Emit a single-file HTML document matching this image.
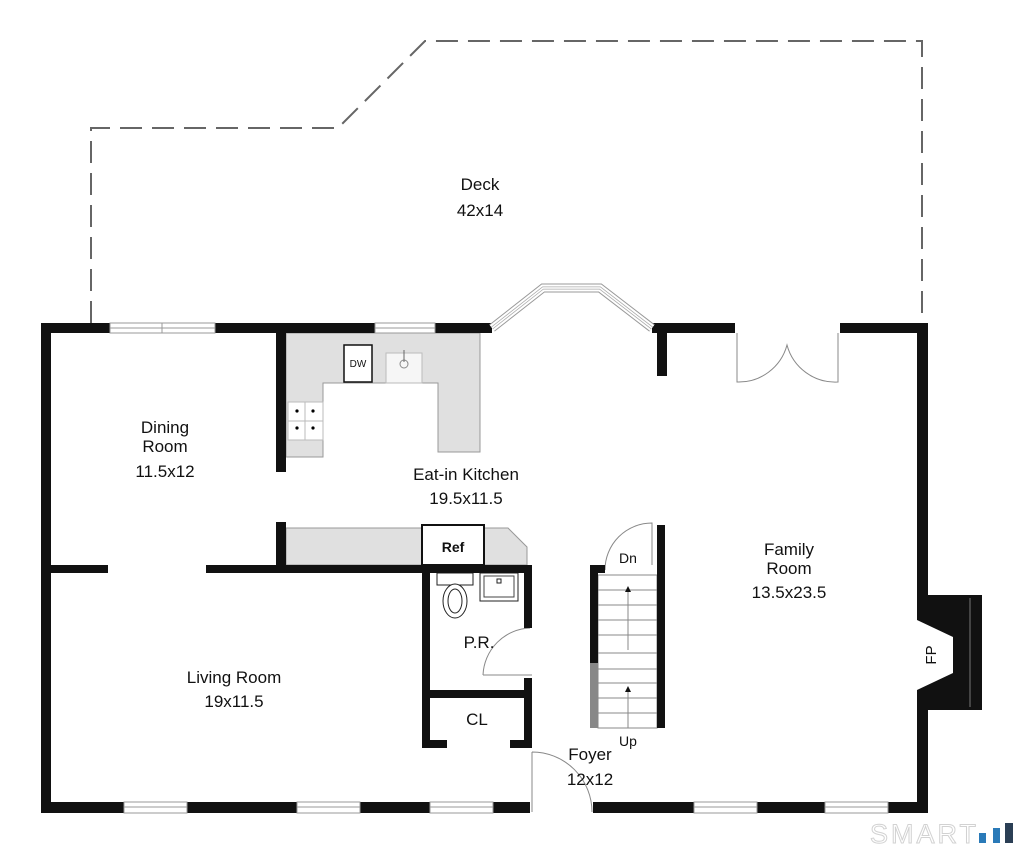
<!DOCTYPE html>
<html><head><meta charset="utf-8"><style>
html,body{margin:0;padding:0;background:#fff;width:1024px;height:851px;overflow:hidden}
svg{display:block}
text{font-family:"Liberation Sans",sans-serif;fill:#111}
</style></head><body>
<svg width="1024" height="851" viewBox="0 0 1024 851" xmlns="http://www.w3.org/2000/svg">
<polyline points="91,323 91,128 338,128 425,41 922,41 922,323" fill="none" stroke="#666" stroke-width="2" stroke-dasharray="22,10"/>

<polygon points="286,333 480,333 480,452 438,452 438,383 323,383 323,457 286,457" fill="#e0e0e0" stroke="#999" stroke-width="1"/>
<polygon points="286,528 508,528 527,547 527,565 286,565" fill="#e0e0e0" stroke="#999" stroke-width="1"/>
<rect x="344" y="345" width="28" height="37" fill="#fff" stroke="#111" stroke-width="1.5"/>
<text x="358" y="367" font-size="10" text-anchor="middle">DW</text>
<rect x="386" y="353" width="36" height="30" fill="#f6f6f6" stroke="#bbb"/>
<circle cx="404" cy="364" r="4" fill="none" stroke="#888"/>
<line x1="404" y1="350" x2="404" y2="362" stroke="#666"/>
<rect x="288" y="402" width="35" height="38" fill="#fff" stroke="#bbb"/>
<line x1="305" y1="402" x2="305" y2="440" stroke="#bbb"/><line x1="288" y1="421" x2="323" y2="421" stroke="#bbb"/>
<circle cx="297" cy="411" r="1.6" fill="#000"/><circle cx="313" cy="411" r="1.6" fill="#000"/>
<circle cx="297" cy="428" r="1.6" fill="#000"/><circle cx="313" cy="428" r="1.6" fill="#000"/>
<rect x="422" y="525" width="62" height="40" fill="#fff" stroke="#111" stroke-width="2"/>
<text x="453" y="552" font-size="14" font-weight="bold" text-anchor="middle" fill="#333">Ref</text>

<rect x="437" y="573" width="36" height="12" fill="#fff" stroke="#222"/>
<ellipse cx="455" cy="601" rx="12" ry="17" fill="#fff" stroke="#222"/>
<ellipse cx="455" cy="601" rx="7" ry="12" fill="none" stroke="#222"/>
<rect x="480" y="573" width="38" height="28" fill="#fff" stroke="#222"/>
<rect x="484" y="576" width="30" height="21" fill="none" stroke="#444"/>
<rect x="497" y="579" width="4" height="4" fill="none" stroke="#222"/>

<g stroke="#888" stroke-width="1" fill="none">
<rect x="598" y="575" width="59" height="153"/>
<line x1="598" y1="653" x2="657" y2="653"/>
<line x1="598" y1="590" x2="657" y2="590"/><line x1="598" y1="605" x2="657" y2="605"/><line x1="598" y1="620" x2="657" y2="620"/><line x1="598" y1="635" x2="657" y2="635"/>
<line x1="598" y1="669" x2="657" y2="669"/><line x1="598" y1="683" x2="657" y2="683"/><line x1="598" y1="698" x2="657" y2="698"/><line x1="598" y1="713" x2="657" y2="713"/>
<line x1="628" y1="588" x2="628" y2="650"/><line x1="628" y1="690" x2="628" y2="728"/>
<path d="M605,570 A47,47 0 0 1 652,523 L652,565"/>
<path d="M532,752 L532,812 M532,752 A60,60 0 0 1 592,812"/>
<path d="M483,675 L532,675 M483,675 A49,49 0 0 1 530,628"/>
<path d="M737,333 L737,382 A50,50 0 0 0 787,345 A50,50 0 0 0 838,382 L838,333"/>
</g>
<polygon points="628,586 625,592 631,592" fill="#111"/>
<polygon points="628,686 625,692 631,692" fill="#111"/>

<g fill="#111">
<rect x="41" y="323" width="10" height="490"/>
<rect x="41" y="323" width="69" height="10"/>
<rect x="215" y="323" width="160" height="10"/>
<rect x="435" y="323" width="57" height="10"/>
<rect x="652" y="323" width="83" height="10"/>
<rect x="657" y="323" width="10" height="53"/>
<rect x="840" y="323" width="87" height="10"/>
<rect x="917" y="323" width="11" height="272"/>
<rect x="917" y="710" width="11" height="103"/>
<polygon points="917,595 982,595 982,710 917,710 917,690 953,673 953,637 917,620"/>
<rect x="276" y="333" width="10" height="139"/>
<rect x="276" y="522" width="10" height="50"/>
<rect x="51" y="565" width="57" height="8"/>
<rect x="206" y="565" width="326" height="8"/>
<rect x="422" y="565" width="8" height="183"/>
<rect x="524" y="565" width="8" height="63"/>
<rect x="524" y="678" width="8" height="70"/>
<rect x="430" y="690" width="94" height="8"/>
<rect x="422" y="740" width="25" height="8"/>
<rect x="510" y="740" width="22" height="8"/>
<rect x="590" y="565" width="8" height="98"/>
<rect x="590" y="565" width="15" height="8"/>
<rect x="657" y="525" width="8" height="203"/>
<rect x="41" y="802" width="83" height="11"/>
<rect x="187" y="802" width="110" height="11"/>
<rect x="360" y="802" width="70" height="11"/>
<rect x="493" y="802" width="37" height="11"/>
<rect x="593" y="802" width="101" height="11"/>
<rect x="757" y="802" width="68" height="11"/>
<rect x="888" y="802" width="40" height="11"/>
</g>
<rect x="590" y="663" width="8" height="65" fill="#888"/>
<line x1="970" y1="598" x2="970" y2="707" stroke="#777"/>
<text x="0" y="0" font-size="15" transform="translate(936,655) rotate(-90)" text-anchor="middle">FP</text>

<g fill="#fff" stroke="#999" stroke-width="1">
<rect x="110" y="323" width="105" height="10"/><line x1="110" y1="328" x2="215" y2="328"/><line x1="162" y1="323" x2="162" y2="333"/>
<rect x="375" y="323" width="60" height="10"/><line x1="375" y1="328" x2="435" y2="328"/>
<rect x="124" y="802" width="63" height="11"/><line x1="124" y1="807" x2="187" y2="807"/>
<rect x="297" y="802" width="63" height="11"/><line x1="297" y1="807" x2="360" y2="807"/>
<rect x="430" y="802" width="63" height="11"/><line x1="430" y1="807" x2="493" y2="807"/>
<rect x="694" y="802" width="63" height="11"/><line x1="694" y1="807" x2="757" y2="807"/>
<rect x="825" y="802" width="63" height="11"/><line x1="825" y1="807" x2="888" y2="807"/>
</g>
<g fill="none">
<polyline points="492,328 543,288 600,288 652,328" stroke-width="9" stroke="#999"/>
<polyline points="492,328 543,288 600,288 652,328" stroke-width="7" stroke="#fff"/>
<polyline points="492,328 543,288 600,288 652,328" stroke-width="3" stroke="#aaa"/>
<polyline points="492,328 543,288 600,288 652,328" stroke-width="1.5" stroke="#fff"/>
</g>

<g font-size="17" text-anchor="middle">
<text x="480" y="190">Deck</text><text x="480" y="216">42x14</text>
<text x="165" y="433">Dining</text><text x="165" y="452">Room</text><text x="165" y="477">11.5x12</text>
<text x="466" y="480">Eat-in Kitchen</text><text x="466" y="504">19.5x11.5</text>
<text x="789" y="555">Family</text><text x="789" y="574">Room</text><text x="789" y="598">13.5x23.5</text>
<text x="234" y="683">Living Room</text><text x="234" y="707">19x11.5</text>
<text x="479" y="648">P.R.</text>
<text x="477" y="725">CL</text>
<text x="590" y="760">Foyer</text><text x="590" y="785">12x12</text>
</g>
<text x="628" y="563" font-size="14" text-anchor="middle">Dn</text>
<text x="628" y="746" font-size="14" text-anchor="middle">Up</text>

<text x="870" y="843" font-size="27" fill="none" stroke="#d2d2d2" stroke-width="1" letter-spacing="3" style="fill:none">SMART</text>
<rect x="979" y="833" width="7" height="10" fill="#2a7ab8"/>
<rect x="993" y="828" width="7" height="15" fill="#2a7ab8"/>
<rect x="1005" y="823" width="8" height="20" fill="#2b3f55"/>
</svg>
</body></html>
